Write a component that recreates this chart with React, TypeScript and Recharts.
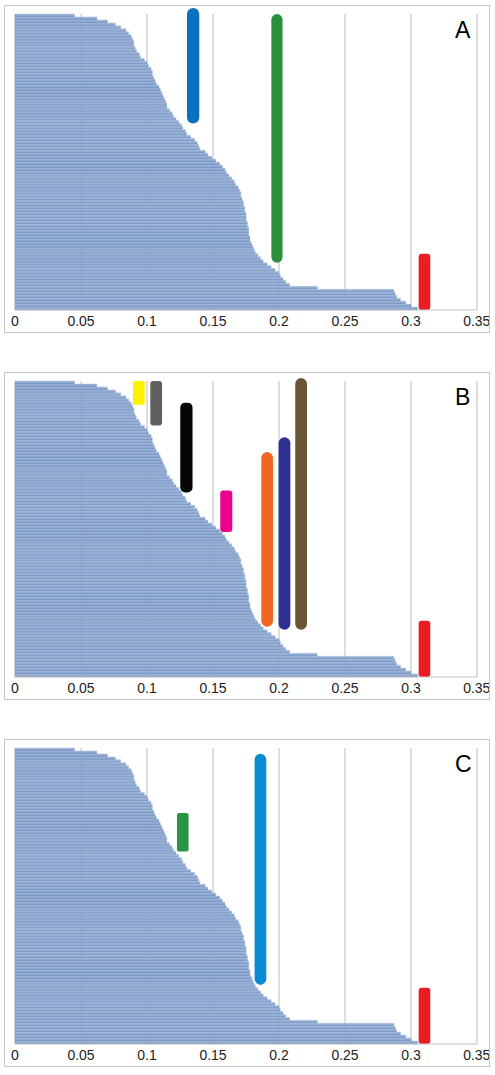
import { BarChart, Bar, XAxis, YAxis, CartesianGrid, ReferenceArea } from "recharts";

// fraction per row (same ordering in all three panels)
const coverage = [
  0.045, 0.062, 0.07, 0.076, 0.08, 0.084, 0.086, 0.088, 0.089, 0.09,
  0.09, 0.091, 0.092, 0.094, 0.095, 0.098, 0.1, 0.101, 0.103, 0.104,
  0.104, 0.105, 0.106, 0.107, 0.109, 0.11, 0.111, 0.112, 0.113, 0.114,
  0.115, 0.115, 0.117, 0.119, 0.12, 0.122, 0.124, 0.126, 0.127, 0.129,
  0.13, 0.133, 0.136, 0.138, 0.139, 0.14, 0.144, 0.146, 0.149, 0.152,
  0.155, 0.157, 0.159, 0.16, 0.162, 0.164, 0.166, 0.167, 0.169, 0.17,
  0.171, 0.171, 0.172, 0.173, 0.173, 0.174, 0.174, 0.175, 0.175, 0.175,
  0.176, 0.176, 0.177, 0.177, 0.177, 0.178, 0.178, 0.179, 0.18, 0.181,
  0.182, 0.184, 0.186, 0.188, 0.191, 0.194, 0.197, 0.2, 0.201, 0.203,
  0.205, 0.208, 0.229, 0.287, 0.288, 0.289, 0.292, 0.296, 0.3, 0.305,
];

const xTicks = [0, 0.05, 0.1, 0.15, 0.2, 0.25, 0.3, 0.35];

const panelNames = ["A", "B", "C"];

// marker ranges: value range on x, row range on y
const markersA = [
  { id: "A-blue", from: 0.1303, to: 0.1396, rowFrom: 0, rowTo: 34 },
  { id: "A-green", from: 0.1942, to: 0.2027, rowFrom: 2, rowTo: 81 },
  { id: "red", from: 0.3058, to: 0.3146, rowFrom: 81, rowTo: 99 },
];

const markersB = [
  { id: "B-yellow", from: 0.0894, to: 0.0982, rowFrom: 0, rowTo: 7 },
  { id: "B-gray", from: 0.1025, to: 0.1114, rowFrom: 0, rowTo: 14 },
  { id: "B-black", from: 0.1252, to: 0.1345, rowFrom: 9, rowTo: 35 },
  { id: "B-pink", from: 0.1555, to: 0.1646, rowFrom: 37, rowTo: 50 },
  { id: "B-orange", from: 0.1866, to: 0.1955, rowFrom: 26, rowTo: 80 },
  { id: "B-navy", from: 0.1997, to: 0.2086, rowFrom: 21, rowTo: 81 },
  { id: "B-brown", from: 0.2123, to: 0.2212, rowFrom: 1, rowTo: 81 },
  { id: "red", from: 0.3058, to: 0.3146, rowFrom: 81, rowTo: 99 },
];

const markersC = [
  { id: "C-green", from: 0.1227, to: 0.1315, rowFrom: 22, rowTo: 34 },
  { id: "C-blue", from: 0.1815, to: 0.1904, rowFrom: 4, rowTo: 77 },
  { id: "red", from: 0.3058, to: 0.3146, rowFrom: 81, rowTo: 99 },
];

const markerStyle: Record<string, { color: string; r: number }> = {
  "A-blue": { color: "#0a70bf", r: 6 },
  "A-green": { color: "#2c8f3e", r: 6 },
  red: { color: "#ec1c24", r: 3 },
  "B-yellow": { color: "#fff200", r: 1 },
  "B-gray": { color: "#606060", r: 3 },
  "B-black": { color: "#050505", r: 5 },
  "B-pink": { color: "#ec008c", r: 3 },
  "B-orange": { color: "#f26522", r: 6 },
  "B-navy": { color: "#2e3192", r: 6 },
  "B-brown": { color: "#6a5535", r: 6 },
  "C-green": { color: "#2a9442", r: 2 },
  "C-blue": { color: "#0a8bd2", r: 6 },
};

const rows = coverage.map((v, i) => ({ row: i, value: v }));

const FONT = "'Liberation Sans', Arial, sans-serif";

function Panel({ name, markers, top }: { name: string; markers: typeof markersA; top: number }) {
  const gid = "stripe" + name;
  return (
    <div
      style={{
        position: "absolute",
        left: 4,
        top,
        width: 486,
        height: 328,
        border: "1px solid #c6c6c6",
        boxSizing: "border-box",
        background: "#fff",
      }}
    >
      <BarChart
        width={484}
        height={326}
        data={rows}
        layout="vertical"
        barCategoryGap={0}
        margin={{ top: 8, right: 12, left: 10, bottom: 0 }}
      >
        <defs>
          <linearGradient id={gid} x1="0" y1="0" x2="0" y2="1">
            <stop offset="0%" stopColor="#a6bcdd" />
            <stop offset="50%" stopColor="#83a0cc" />
            <stop offset="100%" stopColor="#6c8bbd" />
          </linearGradient>
        </defs>
        <CartesianGrid horizontal={false} stroke="#bdbdbd" />
        <XAxis
          type="number"
          domain={[0, 0.35]}
          ticks={xTicks}
          height={22}
          axisLine={{ stroke: "#c2c2c2" }}
          tickLine={false}
          tickSize={4}
          tick={{ fill: "#222", fontSize: 14, fontFamily: FONT }}
        />
        <YAxis type="category" dataKey="row" hide />
        <Bar
          dataKey="value"
          fill={`url(#${gid})`}
          fillOpacity={0.92}
          stroke="#7d98c4"
          strokeWidth={0.3}
          isAnimationActive={false}
        />
        {markers.map((m) => {
          const st = markerStyle[m.id];
          return (
            <ReferenceArea
              key={m.id}
              x1={m.from}
              x2={m.to}
              y1={m.rowFrom}
              y2={m.rowTo}
              shape={(p: any) => (
                <rect
                  x={p.x}
                  y={p.y - (st.r >= 5 ? st.r : 0)}
                  width={p.width}
                  height={p.height + (st.r >= 5 ? 2 * st.r : 0)}
                  rx={st.r}
                  ry={st.r}
                  fill={st.color}
                />
              )}
            />
          );
        })}
      </BarChart>
      <div
        style={{
          position: "absolute",
          left: 450,
          top: 13,
          fontFamily: FONT,
          fontSize: 23,
          lineHeight: 1,
          color: "#000",
        }}
      >
        {name}
      </div>
    </div>
  );
}

export default function App() {
  return (
    <div style={{ position: "absolute", left: 0, top: 0, width: 495, height: 1075, background: "#fff" }}>
      <Panel name={panelNames[0]} markers={markersA} top={5} />
      <Panel name={panelNames[1]} markers={markersB} top={372} />
      <Panel name={panelNames[2]} markers={markersC} top={739} />
    </div>
  );
}
